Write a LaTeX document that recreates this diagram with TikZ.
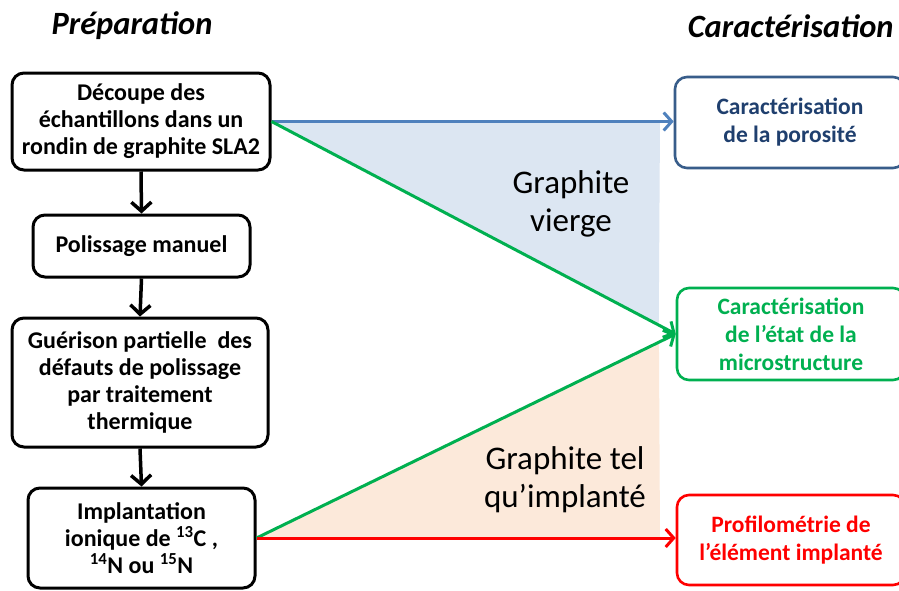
\documentclass[tikz,border=0pt]{standalone}
\usepackage{fontspec}
\setmainfont{Carlito}
\usetikzlibrary{arrows.meta,calc}
\definecolor{myblue}{HTML}{4F81BD}
\definecolor{darkblue}{HTML}{385D8A}
\definecolor{textblue}{HTML}{1F3F6E}
\definecolor{mygreen}{HTML}{00B050}
\definecolor{myred}{HTML}{FF0000}
\definecolor{fillblue}{HTML}{DCE6F2}
\definecolor{fillpeach}{HTML}{FCE9DA}
\tikzset{
  x=1pt, y=-1pt,
  stepbox/.style={draw=black, line width=3pt, rounded corners=12pt, align=center,
    font=\fontsize{24}{27}\selectfont\bfseries, inner sep=0pt},
  resbox/.style={line width=2.6pt, rounded corners=12pt, align=center,
    font=\fontsize{23.5}{28}\selectfont\bfseries, inner sep=0pt},
  flow/.style={line width=3.5pt, -{Straight Barb[length=9pt,width=20pt,line width=3.5pt]}},
  link/.style={line width=3pt, -{Straight Barb[length=8pt,width=18pt,line width=3pt]}},
  title/.style={font=\fontsize{32.5}{38}\selectfont\bfseries\itshape},
  big/.style={align=center, font=\fontsize{33}{38}\selectfont}
}
\begin{document}
\begin{tikzpicture}
\clip (0,0) rectangle (899,590);
\fill[white] (0,0) rectangle (899,590);

% titles
\node[title] (tprep) at (132,26) {Préparation};
\node[title, anchor=east] (tcar) at (897,26) {Caractérisation};

% left boxes
\node[stepbox, minimum width=258pt, minimum height=97pt] (b1) at (141,121.5)
  {Découpe des\\échantillons dans un\\rondin de graphite SLA2};
\node[stepbox, minimum width=217pt, minimum height=62pt] (b2) at (141.5,246)
  {Polissage manuel};
\node[stepbox, minimum width=256pt, minimum height=129pt] (b3) at (140,382.5)
  {Guérison partielle\ \ des\\défauts de polissage\\par traitement\\thermique};
\node[stepbox, minimum width=227pt, minimum height=100pt] (b4) at (141.5,538)
  {Implantation\\ionique de \textsuperscript{13}C ,\\\textsuperscript{14}N ou \textsuperscript{15}N};

% right boxes
\node[resbox, draw=darkblue, text=textblue, minimum width=230pt, minimum height=91pt] (r1) at (790,122.5)
  {Caractérisation\\de la porosité};
\node[resbox, draw=mygreen, text=mygreen, minimum width=228pt, minimum height=92pt] (r2) at (791,334)
  {Caractérisation\\de l’état de la\\microstructure};
\node[resbox, draw=myred, text=myred, minimum width=228pt, minimum height=90pt] (r3) at (791,540)
  {Profilométrie de\\l’élément implanté};

% shaded triangles
\coordinate (edge) at (660,0);
\fill[fillblue] (b1.east) -- (b1.east -| edge) -- ($(b1.east)!0.958!(r2.west)$) -- cycle;
\fill[fillpeach] (b4.east) -- (b4.east -| edge) -- ($(b4.east)!0.96!(r2.west)$) -- cycle;

\node[big] (gv) at (571,204) {Graphite\\vierge};
\node[big] (gi) at (565,480) {Graphite tel\\qu’implanté};

% vertical flow
\draw[flow] (b1.south) -- (b2.north);
\draw[flow] (b2.south) -- (b3.north);
\draw[flow] (b3.south) -- (b4.north);

% links
\draw[link, draw=myblue] (b1.east) -- (b1.east -| r1.west);
\draw[link, draw=mygreen] (b1.east) -- (r2.west);
\draw[link, draw=mygreen] (b4.east) -- (r2.west);
\draw[link, draw=myred] (b4.east) -- (b4.east -| r3.west);
\end{tikzpicture}
\end{document}
